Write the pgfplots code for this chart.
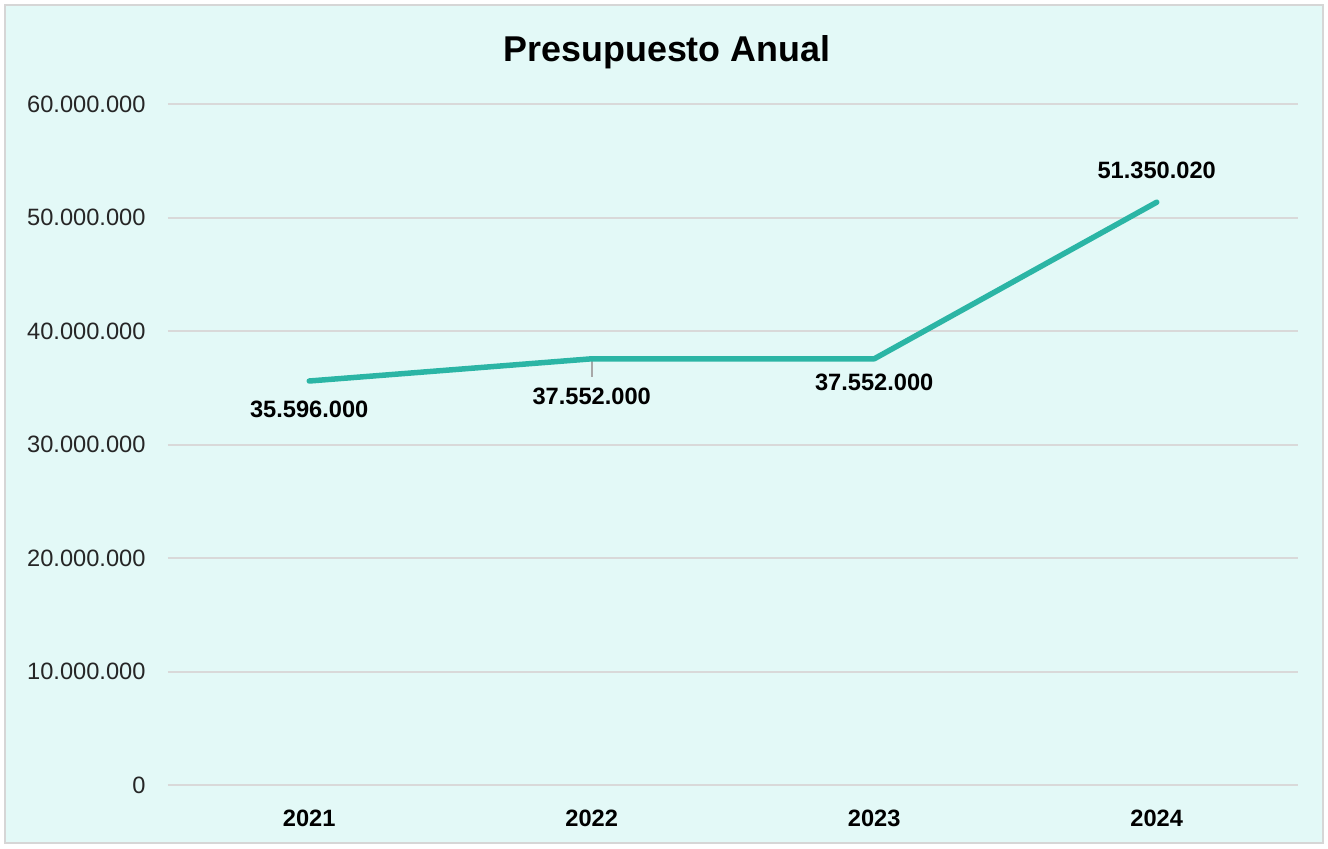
\documentclass[border=0pt]{standalone}
\usepackage{pgfplots}
\pgfplotsset{compat=1.18}
\usepackage{fontspec}
\setmainfont{Liberation Sans}
\definecolor{bgc}{HTML}{E3F9F7}
\definecolor{bordc}{HTML}{D6D6D6}
\definecolor{gridc}{HTML}{D9D9D9}
\definecolor{linec}{HTML}{2BB5A5}
\definecolor{leadc}{HTML}{A8A8A8}
\def\px{0.3765pt}
\begin{document}
\begin{tikzpicture}
\fill[white] (-168*\px,-63*\px) rectangle (1160*\px,785*\px);
\fill[bgc] (-163*\px,-58*\px) rectangle (1155*\px,780*\px);
\draw[bordc, line width=2*\px] (-163*\px,-58*\px) rectangle (1155*\px,780*\px);
\begin{axis}[
  at={(0,0)}, anchor=south west,
  scale only axis,
  width=1130*\px, height=681*\px,
  xmin=-0.5, xmax=3.5,
  ymin=0, ymax=60000000,
  xtick={0,1,2,3},
  xticklabels={2021,2022,2023,2024},
  ytick={0,10000000,20000000,30000000,40000000,50000000,60000000},
  scaled y ticks=false,
  /pgf/number format/.cd, fixed, precision=0, 1000 sep={.}, assume math mode=true,
  /pgfplots/.cd,
  axis line style={draw=none},
  major tick length=0pt,
  ymajorgrids,
  grid style={gridc, line width=2*\px},
  yticklabel style={anchor=east, inner sep=0pt, xshift=-22*\px, font=\fontsize{8.9}{10}\selectfont, text=black!85},
  xticklabel style={anchor=center, inner sep=0pt, yshift=-33*\px, font=\fontsize{8.9}{10}\selectfont\bfseries},
  clip=false,
]
\draw[leadc, line width=2*\px] (axis cs:1,37552000) -- ([yshift=-18*\px]axis cs:1,37552000);
\addplot[linec, line width=5.5*\px, line cap=round, line join=round] coordinates {
  (0,35596000) (1,37552000) (2,37552000) (3,51350020)
};
\node[font=\fontsize{8.9}{10}\selectfont\bfseries, anchor=center] at ([yshift=-28*\px]axis cs:0,35596000) {35.596.000};
\node[font=\fontsize{8.9}{10}\selectfont\bfseries, anchor=center] at ([yshift=-38*\px]axis cs:1,37552000) {37.552.000};
\node[font=\fontsize{8.9}{10}\selectfont\bfseries, anchor=center] at ([yshift=-24*\px]axis cs:2,37552000) {37.552.000};
\node[font=\fontsize{8.9}{10}\selectfont\bfseries, anchor=center] at ([yshift=32*\px]axis cs:3,51350020) {51.350.020};
\end{axis}
\node[font=\fontsize{13.5}{16}\selectfont\bfseries, anchor=center] at (499*\px,733*\px) {Presupuesto Anual};
\end{tikzpicture}
\end{document}
